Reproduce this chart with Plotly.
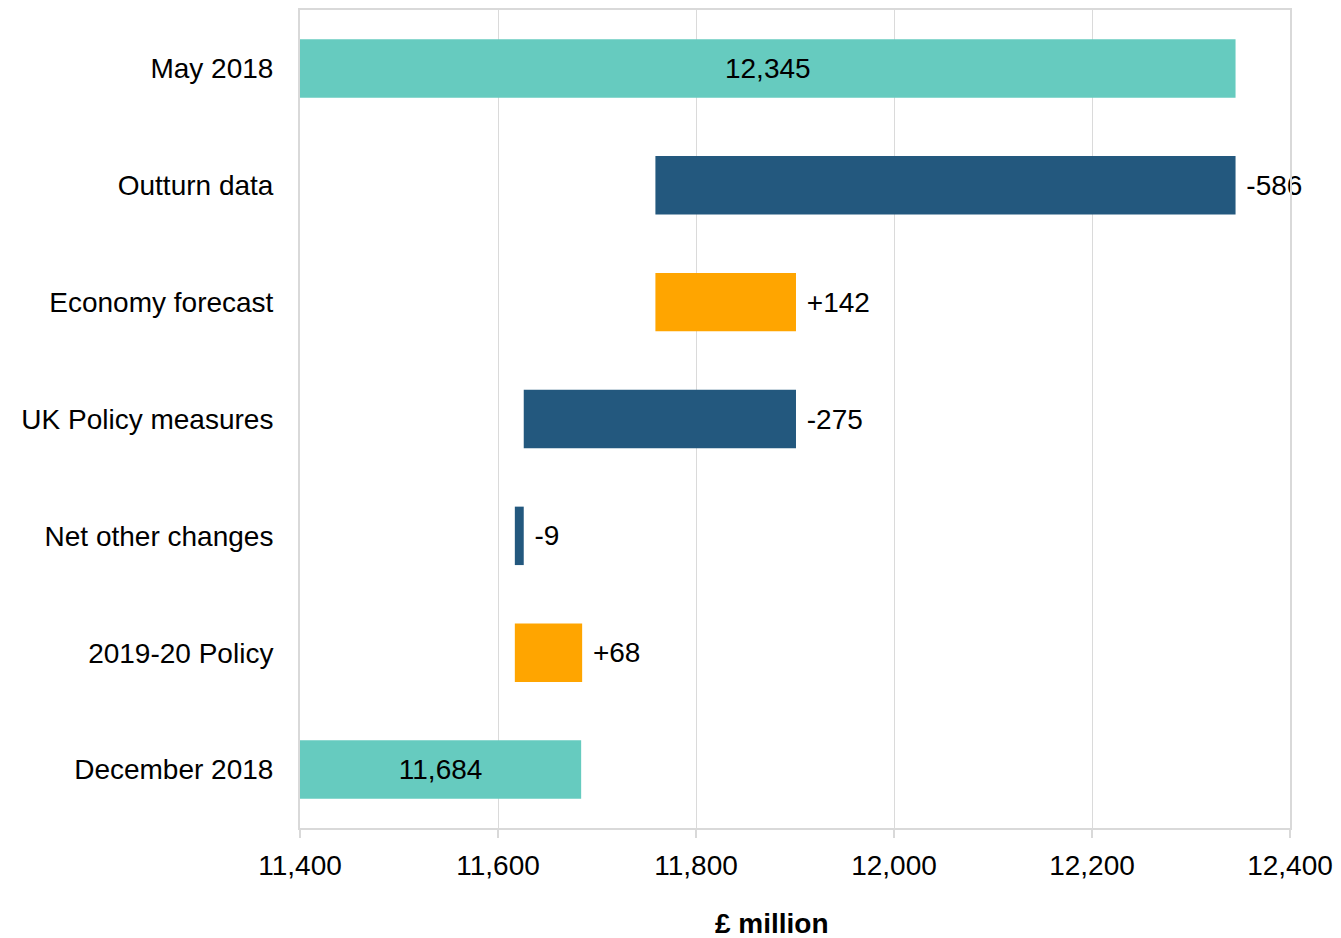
import plotly.graph_objects as go

categories = ["May 2018", "Outturn data", "Economy forecast", "UK Policy measures",
              "Net other changes", "2019-20 Policy", "December 2018"]
changes = [12345, -586, 142, -275, -9, 68, 11684]
kinds = ["total", "change", "change", "change", "change", "change", "total"]
labels = ["12,345", "-586", "+142", "-275", "-9", "+68", "11,684"]
x_ticks = [11400, 11600, 11800, 12000, 12200, 12400]
x_tick_labels = ["11,400", "11,600", "11,800", "12,000", "12,200", "12,400"]
x_title = "£ million"

AXIS_MIN = 11400
TEAL = "#66CBBF"
BLUE = "#23587E"
ORANGE = "#FFA500"
FONT = "Liberation Sans, Arial, Helvetica, sans-serif"

bases, lengths, colors, positions, texts = [], [], [], [], []
running = 0
for v, k, lab in zip(changes, kinds, labels):
    if k == "total":
        running = v
        bases.append(AXIS_MIN)
        lengths.append(v - AXIS_MIN)
        colors.append(TEAL)
        positions.append("inside")
        texts.append(lab)
    else:
        start, end = running, running + v
        bases.append(min(start, end))
        lengths.append(abs(v))
        colors.append(ORANGE if v > 0 else BLUE)
        positions.append("outside")
        texts.append(" " + lab)
        running = end

fig = go.Figure(go.Bar(
    y=categories, x=lengths, base=bases, orientation="h",
    marker=dict(color=colors, line=dict(width=0)),
    width=0.5,
    text=texts, textposition=positions, insidetextanchor="middle",
    textfont=dict(family=FONT, size=28, color="black"),
    constraintext="none", cliponaxis=False,
    hoverinfo="skip",
))

fig.update_layout(
    width=1341, height=938,
    margin=dict(l=300, r=51, t=10, b=110),
    paper_bgcolor="white", plot_bgcolor="white",
    showlegend=False,
    font=dict(family=FONT, size=28, color="black"),
    xaxis=dict(
        range=[11400, 12400], tickvals=x_ticks, ticktext=x_tick_labels,
        showgrid=True, gridcolor="#DADADA", gridwidth=1,
        showline=True, linecolor="#D9D9D9", linewidth=2, mirror=True,
        ticks="outside", ticklen=8, tickcolor="#D9D9D9", tickwidth=2,
        ticklabelstandoff=3,
        zeroline=False,
        tickfont=dict(size=28),
        automargin=False,
    ),
    yaxis=dict(
        autorange="reversed", showgrid=False, zeroline=False,
        showline=True, linecolor="#D9D9D9", linewidth=2, mirror=True,
        ticks="", ticklabelstandoff=19, tickfont=dict(size=28),
        automargin=False,
    ),
    bargap=0.5,
    annotations=[dict(
        text="<b>" + x_title + "</b>", xref="paper", yref="paper",
        x=0.477, y=0, xanchor="center", yanchor="middle", yshift=-95,
        showarrow=False, font=dict(family=FONT, size=28, color="black"),
    )],
)

# remove the browser's default 8px body margin so the figure fills the window exactly
fig.write_html(
    "out.html",
    config={"displayModeBar": False},
    post_script="document.body.style.margin='0';document.body.style.overflow='hidden';",
)
